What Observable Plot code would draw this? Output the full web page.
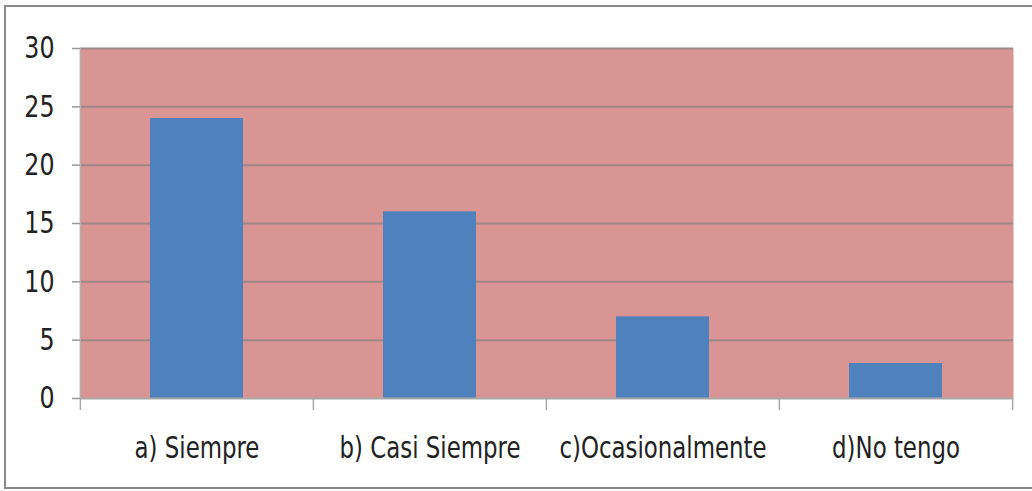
<!DOCTYPE html>
<html><head><meta charset="utf-8">
<script src="https://cdn.jsdelivr.net/npm/d3@7"></script>
<script src="https://cdn.jsdelivr.net/npm/@observablehq/plot@0.6"></script>
<style>
body{margin:0;background:#fff;overflow:hidden}
#wrap{position:relative;width:1032px;height:491px;overflow:hidden}
#border{position:absolute;left:4px;top:5px;width:1100px;height:484px;border:2px solid #8a8a8a;box-sizing:border-box;pointer-events:none}
#wrap svg{position:absolute;left:0;top:0}
</style></head><body><div id="wrap"><div id="border"></div></div>
<script>
const categories = ["a) Siempre", "b) Casi Siempre", "c)Ocasionalmente", "d)No tengo"];
const values = [24, 16, 7, 3];
const yTicks = [0, 5, 10, 15, 20, 25, 30];

const data = categories.map((c, i) => ({category: c, value: values[i]}));
const W = 1032, H = 491, ml = 80, mr = 19, mt = 48, mb = 93;
const step = (W - ml - mr) / categories.length;
const font = '"Liberation Sans Narrow","DejaVu Sans Condensed","Noto Sans",sans-serif';

const chart = Plot.plot({
  width: W, height: H,
  marginLeft: ml, marginRight: mr, marginTop: mt, marginBottom: mb,
  style: {fontFamily: font, fontSize: "31px", color: "#222", background: "transparent"},
  x: {domain: categories, paddingInner: 0.6, paddingOuter: 0.3, label: null},
  y: {domain: [0, 30], label: null},
  marks: [
    Plot.frame({fill: "#D99594", stroke: null}),
    Plot.ruleY(yTicks.filter(t => t > 0), {stroke: "#9e8787", strokeWidth: 2}),
    Plot.barY(data, {x: "category", y: "value", fill: "#4F81BD"}),
    Plot.ruleY([0], {stroke: "#a8a8a8", strokeWidth: 2}),
    Plot.ruleX(categories, {x: d => d, dx: -step / 2, y1: 0, y2: 0, insetBottom: -12, stroke: "#a8a8a8", strokeWidth: 1.5}),
    Plot.ruleX(categories.slice(-1), {x: d => d, dx: step / 2, y1: 0, y2: 0, insetBottom: -12, stroke: "#a8a8a8", strokeWidth: 1.5}),
    Plot.ruleX(categories.slice(0, 1), {x: d => d, dx: -step / 2, y1: 0, y2: 30, stroke: "#b0b0b0", strokeWidth: 1.5}),
    Plot.axisY({ticks: yTicks, tickSize: 8, tickPadding: 18, stroke: "#999", strokeWidth: 1.5, tickFormat: d => String(d), fontSize: 31, fill: "#222", ariaLabel: "y-axis"}),
    Plot.axisX({tickSize: 0, tickPadding: 37, fontSize: 31, fill: "#222", ariaLabel: "x-axis"})
  ]
});
document.getElementById("wrap").appendChild(chart);
// condense text horizontally to mimic a narrow face
chart.querySelectorAll('g[aria-label="x-axis"] text, g[aria-label="x-axis tick label"] text').forEach(t => {
  const len = t.getComputedTextLength();
  t.setAttribute("textLength", len * 0.82);
  t.setAttribute("lengthAdjust", "spacingAndGlyphs");
});
chart.querySelectorAll('g[aria-label="y-axis"] text, g[aria-label="y-axis tick label"] text').forEach(t => {
  const len = t.getComputedTextLength();
  t.setAttribute("textLength", len * 0.85);
  t.setAttribute("lengthAdjust", "spacingAndGlyphs");
});
</script>
</body></html>
